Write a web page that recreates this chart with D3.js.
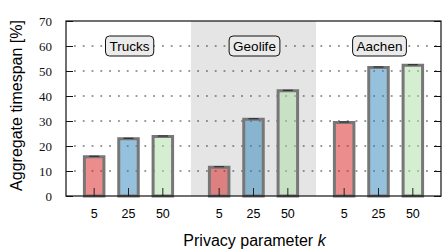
<!DOCTYPE html>
<html>
<head>
<meta charset="utf-8">
<script src="https://cdn.jsdelivr.net/npm/d3@7"></script>
<style>
  body { margin: 0; background: #fff; }
  svg { display: block; }
</style>
</head>
<body>
<svg width="442" height="251"></svg>
<script>
// datasets and privacy parameter values
const groups = ['Trucks', 'Geolife', 'Aachen'];
const kValues = ['5', '25', '50'];

// aggregate timespan [%] per dataset, one entry per k
const trucksValues = [15.7, 22.9, 23.8];
const geolifeValues = [11.5, 30.7, 42.1];
const aachenValues = [29.4, 51.4, 52.3];

const yTicks = [0, 10, 20, 30, 40, 50, 60, 70];
const colors = ['#d7191c', '#2b83ba', '#abdda4'];

const data = [
    { group: 'Trucks', values: trucksValues },
    { group: 'Geolife', values: geolifeValues },
    { group: 'Aachen', values: aachenValues }
];

const plot = { left: 66, right: 441, top: 21, bottom: 196 };
const svg = d3.select('svg');

// scales
const xGroup = d3.scaleBand()
    .domain(groups)
    .range([plot.left, plot.right]);

const xBar = d3.scalePoint()
    .domain(kValues)
    .range([0, xGroup.bandwidth()])
    .padding(0.82);

const y = d3.scaleLinear()
    .domain([0, 70])
    .range([plot.bottom, plot.top]);

// shaded background for middle group
svg.append('rect')
    .attr('x', xGroup('Geolife'))
    .attr('y', plot.top)
    .attr('width', xGroup.bandwidth())
    .attr('height', plot.bottom - plot.top)
    .attr('fill', '#e5e5e5');

// dotted grid lines
svg.append('g')
    .selectAll('line')
    .data(yTicks.filter(t => t > 0 && t < 70))
    .enter().append('line')
    .attr('x1', plot.left + 8)
    .attr('x2', plot.right)
    .attr('y1', d => y(d))
    .attr('y2', d => y(d))
    .attr('stroke', '#333')
    .attr('stroke-width', 1)
    .attr('stroke-dasharray', '1.8,7');

// group labels
const labels = svg.append('g')
    .selectAll('g')
    .data(groups)
    .enter().append('g')
    .attr('transform', d => `translate(${xGroup(d) + xGroup.bandwidth() / 2 + 1},${y(60)})`);

labels.append('text')
    .attr('text-anchor', 'middle')
    .attr('dy', '0.36em')
    .style('font-family', '"Liberation Sans", Arial, sans-serif')
    .style('font-size', '13.5px')
    .text(d => d)
    .each(function () {
        const bb = this.getBBox();
        d3.select(this.parentNode).insert('rect', 'text')
            .attr('x', bb.x - 4)
            .attr('y', -10)
            .attr('width', bb.width + 8)
            .attr('height', 20)
            .attr('rx', 4)
            .attr('fill', '#ebebeb')
            .attr('stroke', '#111')
            .attr('stroke-width', 1);
    });

// bars
const groupG = svg.append('g')
    .selectAll('g')
    .data(data)
    .enter().append('g')
    .attr('transform', d => `translate(${xGroup(d.group)},0)`);

const barW = 19.5;
const bars = groupG.selectAll('g')
    .data(d => d.values.map((v, i) => ({ k: kValues[i], v, i })))
    .enter().append('g');

bars.append('rect')
    .attr('x', d => xBar(d.k) - barW / 2)
    .attr('y', d => y(d.v))
    .attr('width', barW)
    .attr('height', d => y(0) - y(d.v))
    .attr('fill', d => colors[d.i])
    .attr('fill-opacity', 0.5)
    .attr('stroke', '#777')
    .attr('stroke-width', 3);

// tiny error bar caps
bars.append('line')
    .attr('x1', d => xBar(d.k) - 5)
    .attr('x2', d => xBar(d.k) + 5)
    .attr('y1', d => y(d.v) - 0.5)
    .attr('y2', d => y(d.v) - 0.5)
    .attr('stroke', '#222')
    .attr('stroke-width', 1);

// inward x ticks
bars.append('line')
    .attr('x1', d => xBar(d.k))
    .attr('x2', d => xBar(d.k))
    .attr('y1', y(0))
    .attr('y2', y(0) - 8)
    .attr('stroke', '#222')
    .attr('stroke-width', 1);

// x tick labels
groupG.selectAll('text.xlab')
    .data(kValues)
    .enter().append('text')
    .attr('class', 'xlab')
    .attr('x', d => xBar(d))
    .attr('y', 218)
    .attr('text-anchor', 'middle')
    .style('font-family', '"Liberation Sans", Arial, sans-serif')
    .style('font-size', '12.5px')
    .text(d => d);

// left axis with inward ticks and serif labels
const yAxis = svg.append('g')
    .attr('transform', `translate(${plot.left},0)`)
    .call(d3.axisLeft(y).tickValues(yTicks).tickSize(-7).tickPadding(14));
yAxis.select('.domain').remove();
yAxis.selectAll('line').attr('stroke', '#111');
yAxis.selectAll('text')
    .style('font-family', '"Liberation Serif", "Times New Roman", serif')
    .style('font-size', '13px')
    .attr('fill', '#111');

// right inward ticks
svg.append('g')
    .attr('transform', `translate(${plot.right},0)`)
    .call(d3.axisRight(y).tickValues(yTicks).tickSize(-7).tickFormat(''))
    .call(g => g.select('.domain').remove())
    .selectAll('line').attr('stroke', '#111');

// frame
svg.append('rect')
    .attr('x', plot.left)
    .attr('y', plot.top)
    .attr('width', plot.right - plot.left)
    .attr('height', plot.bottom - plot.top)
    .attr('fill', 'none')
    .attr('stroke', '#111')
    .attr('stroke-width', 1.2);

// axis titles
svg.append('text')
    .attr('transform', `translate(22,${(plot.top + plot.bottom) / 2 - 3}) rotate(-90)`)
    .attr('text-anchor', 'middle')
    .style('font-family', '"Liberation Sans", Arial, sans-serif')
    .style('font-size', '16px')
    .text('Aggregate timespan [%]');

const xTitle = svg.append('text')
    .attr('x', (plot.left + plot.right) / 2 + 1)
    .attr('y', 246)
    .attr('text-anchor', 'middle')
    .style('font-family', '"Liberation Sans", Arial, sans-serif')
    .style('font-size', '16px');
xTitle.append('tspan').text('Privacy parameter ');
xTitle.append('tspan').style('font-style', 'italic').text('k');
</script>
</body>
</html>
